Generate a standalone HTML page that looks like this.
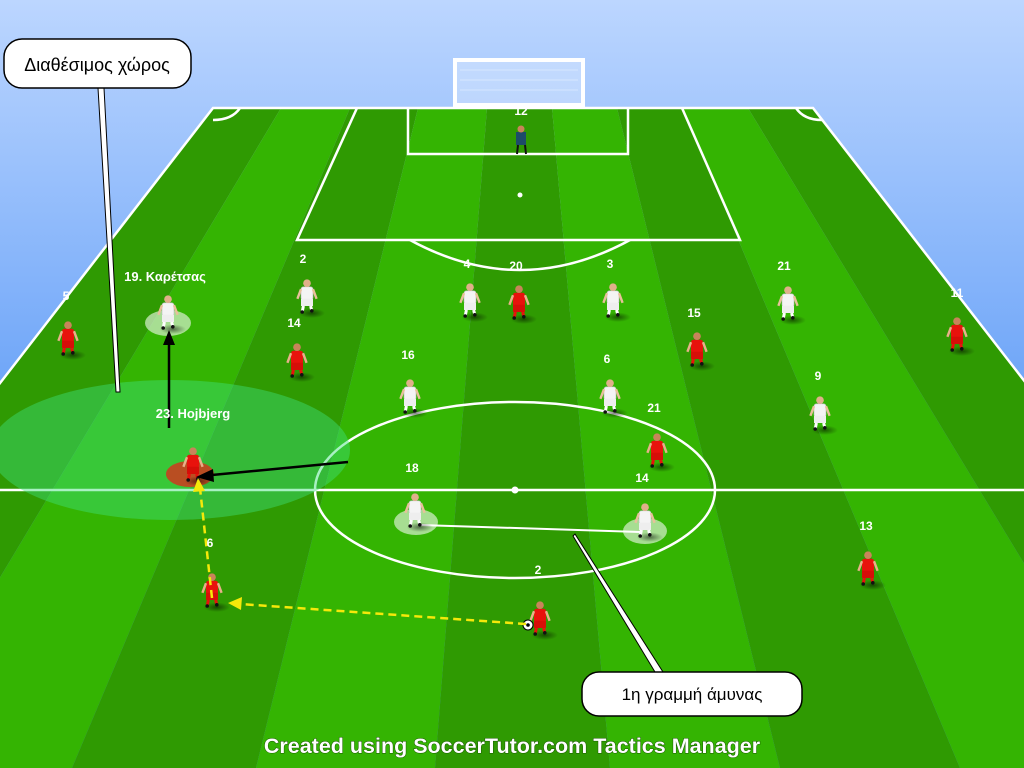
<!DOCTYPE html>
<html><head><meta charset="utf-8"><style>
html,body{margin:0;padding:0;width:1024px;height:768px;overflow:hidden}
svg{display:block}
text{font-family:"Liberation Sans",sans-serif;font-weight:bold;fill:#fff}
</style></head><body>
<svg width="1024" height="768" viewBox="0 0 1024 768" xmlns="http://www.w3.org/2000/svg">
<defs>
<linearGradient id="sky" x1="0" y1="0" x2="0" y2="1">
<stop offset="0" stop-color="#bcd6ff"/><stop offset=".5" stop-color="#6fa6f8"/><stop offset="1" stop-color="#4a8ef2"/></linearGradient>
<radialGradient id="sh"><stop offset="0" stop-color="#000" stop-opacity=".5"/><stop offset="1" stop-color="#000" stop-opacity="0"/></radialGradient>
<g id="pw0">
<ellipse cx="4" cy="1" rx="11" ry="4" fill="url(#sh)"/>
<rect x="-5" y="-21" width="10" height="11" rx="2" fill="#f4f4f4" stroke="#bbb" stroke-width=".5"/>
<rect x="-5" y="-11" width="10" height="6" fill="#eee"/>
<line x1="-3" y1="-5" x2="-4" y2="0" stroke="#fff" stroke-width="2.5"/>
<line x1="3" y1="-5" x2="4" y2="-1" stroke="#fff" stroke-width="2.5"/>
<line x1="-5" y1="-19" x2="-8" y2="-11" stroke="#e8c09a" stroke-width="2"/>
<line x1="5" y1="-19" x2="8" y2="-11" stroke="#e8c09a" stroke-width="2"/>
<circle cx="0" cy="-24" r="3.2" fill="#e0b08a"/>
<circle cx="-4" cy="0" r="1.5" fill="#111"/><circle cx="4" cy="-1" r="1.5" fill="#111"/>
</g>
<g id="pr0">
<ellipse cx="4" cy="1" rx="11" ry="4" fill="url(#sh)"/>
<rect x="-5" y="-21" width="10" height="11" rx="2" fill="#e8120c"/>
<rect x="-5" y="-11" width="10" height="6" fill="#d60e08"/>
<line x1="-3" y1="-5" x2="-4" y2="0" stroke="#e8120c" stroke-width="2.5"/>
<line x1="3" y1="-5" x2="4" y2="-1" stroke="#e8120c" stroke-width="2.5"/>
<line x1="-5" y1="-19" x2="-8" y2="-11" stroke="#e8b08a" stroke-width="2"/>
<line x1="5" y1="-19" x2="8" y2="-11" stroke="#e8b08a" stroke-width="2"/>
<circle cx="0" cy="-24" r="3.2" fill="#c8845a"/>
<circle cx="-4" cy="0" r="1.5" fill="#111"/><circle cx="4" cy="-1" r="1.5" fill="#111"/>
</g>
<g id="pw"><use href="#pw0" transform="scale(1.2)"/></g>
<g id="pr"><use href="#pr0" transform="scale(1.2)"/></g>
</defs>
<rect width="1024" height="768" fill="url(#sky)"/>
<!-- stripes -->
<polygon points="213,108 281,108 -114,768 -298,768" fill="#2f9a02"/>
<polygon points="281,108 350,108 72,768 -114,768" fill="#34b402"/>
<polygon points="350,108 418,108 256,768 72,768" fill="#2f9a02"/>
<polygon points="418,108 487,108 435,768 256,768" fill="#34b402"/>
<polygon points="487,108 552,108 610,768 435,768" fill="#2f9a02"/>
<polygon points="552,108 617,108 780,768 610,768" fill="#34b402"/>
<polygon points="617,108 683,108 960,768 780,768" fill="#2f9a02"/>
<polygon points="683,108 748,108 1148,768 960,768" fill="#34b402"/>
<polygon points="748,108 813,108 1324,768 1148,768" fill="#2f9a02"/>
<!-- lines -->
<g stroke="#fff" stroke-width="2.5" fill="none">
<polyline points="-298,768 213,108 813,108 1324,768"/>
<line x1="0" y1="490" x2="1024" y2="490"/>
<ellipse cx="515" cy="490" rx="200" ry="88"/>
<polyline points="357,108 297,240 740,240 682,108"/>
<polyline points="408,108 408,154 628,154 628,108"/>
<path d="M410,240 Q520,300 630,240"/>
<path d="M213,120 Q232,120 240,108"/>
<path d="M796,108 Q804,120 822,120"/>
</g>
<circle cx="515" cy="490" r="3.5" fill="#fff"/>
<circle cx="520" cy="195" r="2.5" fill="#fff"/>
<!-- goal -->
<g stroke="#fff" fill="none">
<rect x="455" y="60" width="128" height="45" fill="#fff" fill-opacity=".25" stroke-width="4"/>
<g stroke-width=".5" opacity=".7">
<line x1="460" y1="70" x2="578" y2="70"/><line x1="460" y1="80" x2="578" y2="80"/><line x1="460" y1="90" x2="578" y2="90"/>
</g>
</g>
<!-- highlight zone -->
<ellipse cx="170" cy="450" rx="180" ry="70" fill="#3de07a" fill-opacity=".45"/>
<ellipse cx="168" cy="323" rx="23" ry="13" fill="#d8efd0" fill-opacity=".7"/>
<ellipse cx="416" cy="522" rx="22" ry="13" fill="#d8efd0" fill-opacity=".7"/>
<ellipse cx="645" cy="531" rx="22" ry="13" fill="#d8efd0" fill-opacity=".7"/>
<ellipse cx="190" cy="474" rx="24" ry="13" fill="#c84020" fill-opacity=".9"/>
<line x1="420" y1="525" x2="640" y2="532" stroke="#fff" stroke-width="2"/>
<!-- players -->
<g><rect x="516" y="132" width="10" height="13" fill="#1d4c6a"/><circle cx="521" cy="129" r="3.5" fill="#c8845a"/><line x1="518" y1="145" x2="517" y2="154" stroke="#111" stroke-width="2"/><line x1="525" y1="145" x2="526" y2="154" stroke="#111" stroke-width="2"/></g>
<use href="#pw" x="307" y="312"/><use href="#pw" x="470" y="316"/><use href="#pw" x="613" y="316"/><use href="#pw" x="788" y="319"/>
<use href="#pw" x="168" y="328"/><use href="#pw" x="410" y="412"/><use href="#pw" x="610" y="412"/><use href="#pw" x="820" y="429"/>
<use href="#pw" x="415" y="526"/><use href="#pw" x="645" y="536"/>
<use href="#pr" x="68" y="354"/><use href="#pr" x="519" y="318"/><use href="#pr" x="697" y="365"/><use href="#pr" x="957" y="350"/>
<use href="#pr" x="297" y="376"/><use href="#pr" x="193" y="480"/><use href="#pr" x="657" y="466"/><use href="#pr" x="212" y="606"/>
<use href="#pr" x="540" y="634"/><use href="#pr" x="868" y="584"/>
<circle cx="528" cy="625" r="5" fill="#fff" stroke="#000" stroke-width="1"/><circle cx="528" cy="625" r="1.8" fill="#000"/>
<!-- arrows -->
<g stroke="#f5e80a" stroke-width="2.5" stroke-dasharray="8,5" fill="none">
<line x1="212" y1="598" x2="200" y2="488"/>
<line x1="526" y1="624" x2="240" y2="604"/>
</g>
<polygon points="198,478 193,492 205,491" fill="#f5e80a"/>
<polygon points="228,603 242,597 241,610" fill="#f5e80a"/>
<line x1="169" y1="428" x2="169" y2="342" stroke="#000" stroke-width="2.5"/>
<polygon points="169,330 163,345 175,345" fill="#000"/>
<line x1="348" y1="462" x2="212" y2="475" stroke="#000" stroke-width="2.5"/>
<polygon points="196,477 213,469 214,482" fill="#000"/>
<!-- callout lines -->
<polygon points="98,88 104,88 120,392 116,392" fill="#fff" stroke="#000" stroke-width="1"/>
<polygon points="573,536 575,534 663,672 655,672" fill="#fff" stroke="#000" stroke-width="1"/>
<!-- bubbles -->
<rect x="4" y="39" width="187" height="49" rx="18" fill="#fff" stroke="#000" stroke-width="1.5"/>
<text x="97" y="71" text-anchor="middle" style="font-weight:normal;fill:#000;font-size:18px">Διαθέσιμος χώρος</text>
<rect x="582" y="672" width="220" height="44" rx="17" fill="#fff" stroke="#000" stroke-width="1.5"/>
<text x="692" y="700" text-anchor="middle" style="font-weight:normal;fill:#000;font-size:17px">1η γραμμή άμυνας</text>
<!-- labels -->
<g font-size="12" text-anchor="middle">
<text x="521" y="115">12</text>
<text x="66" y="300">5</text><text x="165" y="281" font-size="13">19. Καρέτσας</text>
<text x="303" y="263">2</text><text x="294" y="327">14</text>
<text x="467" y="268">4</text><text x="516" y="270">20</text><text x="610" y="268">3</text>
<text x="784" y="270">21</text><text x="957" y="297">11</text><text x="694" y="317">15</text>
<text x="408" y="359">16</text><text x="607" y="363">6</text><text x="818" y="380">9</text>
<text x="193" y="418" font-size="13">23. Hojbjerg</text><text x="654" y="412">21</text>
<text x="412" y="472">18</text><text x="642" y="482">14</text><text x="866" y="530">13</text>
<text x="210" y="547">6</text><text x="538" y="574">2</text>
</g>
<text x="512" y="753" text-anchor="middle" font-size="21.5" style="paint-order:stroke;stroke:#1a5a00;stroke-width:1px">Created using SoccerTutor.com Tactics Manager</text>
</svg>
</body></html>
